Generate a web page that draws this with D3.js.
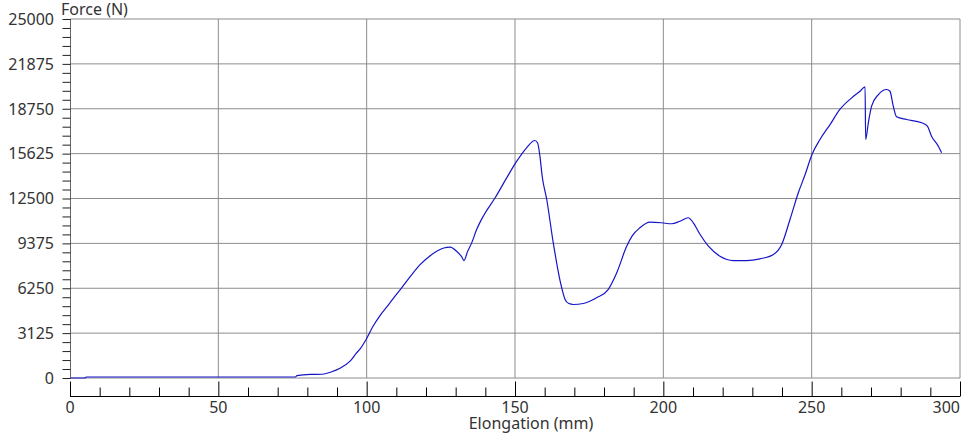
<!DOCTYPE html>
<html><head><meta charset="utf-8">
<script src="https://cdn.jsdelivr.net/npm/d3@7"></script>
<style>
html,body{margin:0;padding:0;background:#fff;}
svg{display:block;}
text{font-family:"Noto Sans","Open Sans",sans-serif;}
</style></head>
<body>
<svg id="chart" width="966" height="434"></svg>
<script>
const elongation = [0,5,5.5,76,76.5,81,85,88,91,94.4,96.6,97.8,100,102,104.5,107,109,111.8,115,118,121,123.6,126,128.1,130.3,132,132.8,134,135.4,137,139.3,143.3,147.2,150.6,153.9,156.7,157.6,158.4,159.2,160.7,162.9,165.2,166.9,168,169.7,173,177.5,181.4,184.3,187.6,189.5,192.1,195.5,199.4,202.8,205.6,208.4,210.1,212.4,215.2,219.1,223.6,228.1,232.6,237.1,239.9,242.7,245.5,247.8,250.1,252.8,256.2,259.5,263.5,266.3,268,268.2,269.1,270.2,272.5,275.3,276.4,277.5,278.6,282,287.1,289,290.4,292.7,293.8];
const force = [0,0,70,70,170,250,260,420,680,1170,1750,2030,2750,3550,4350,5000,5550,6280,7150,7900,8450,8830,9050,9110,8830,8450,8180,8800,9410,10300,11270,12550,13940,15100,16030,16540,16380,15450,14000,12430,9410,6770,5470,5200,5120,5190,5590,6160,7330,9150,9900,10460,10850,10810,10740,10920,11160,10810,9990,9180,8480,8180,8180,8300,8600,9300,11040,12900,14170,15560,16610,17650,18700,19510,19970,20280,16610,17770,18930,19740,20090,19970,18930,18190,18000,17770,17540,16840,16140,15680];
const yTicks = [0,3125,6250,9375,12500,15625,18750,21875,25000];
const xTicks = [0,50,100,150,200,250,300];
const xTitle = "Elongation (mm)";
const yTitle = "Force (N)";

const svg = d3.select("#chart");
const x = d3.scaleLinear().domain([0,300]).range([70,960]);
const y = d3.scaleLinear().domain([0,25000]).range([378,19]);

// gridlines
const grid = svg.append("g");
grid.selectAll("line.h").data(yTicks).join("line")
  .attr("x1",70).attr("x2",960).attr("y1",d=>y(d)).attr("y2",d=>y(d))
  .attr("stroke","#8c8c8c").attr("stroke-width",1);
grid.selectAll("line.v").data(xTicks.slice(1)).join("line")
  .attr("x1",d=>x(d)).attr("x2",d=>x(d)).attr("y1",19).attr("y2",378)
  .attr("stroke","#8c8c8c").attr("stroke-width",1);
// y axis line
svg.append("line").attr("x1",70.5).attr("x2",70.5).attr("y1",19).attr("y2",378)
  .attr("stroke","#666");

// y axis ticks & labels
const yAxis = d3.axisLeft(y).tickValues(d3.range(0,25001,625)).tickSize(8).tickFormat("");
const gy = svg.append("g").attr("transform","translate(70.5,0)").call(yAxis);
gy.select(".domain").remove();
gy.selectAll(".tick line").attr("stroke","#222");
svg.selectAll("text.ylab").data(yTicks).join("text").attr("class","ylab")
  .attr("x",54).attr("y",d=>y(d)).attr("dy","0.36em")
  .attr("text-anchor","end").attr("font-size",16).attr("fill","#333").text(d=>d);

// x axis
const gx = svg.append("g").attr("transform","translate(0,396.5)");
const xMinor = d3.axisTop(x).tickValues(d3.range(0,301,10).filter(v=>v%50!==0)).tickSize(9).tickFormat("");
const xMajor = d3.axisTop(x).tickValues(xTicks).tickSize(15).tickFormat("");
gx.append("g").call(xMinor).select(".domain").remove();
gx.append("g").call(xMajor).select(".domain").attr("d",`M${x(0)},0H${x(300)}`);
gx.selectAll("path.domain").attr("stroke","#000");
gx.selectAll(".tick line").attr("stroke","#000");
svg.selectAll("text.xlab").data(xTicks).join("text").attr("class","xlab")
  .attr("x",d=>x(d)).attr("y",413)
  .attr("text-anchor",(d,i)=>i===xTicks.length-1?"end":"middle")
  .attr("font-size",16).attr("fill","#333").text(d=>d);

// titles
svg.append("text").attr("x",531).attr("y",429).attr("text-anchor","middle")
  .attr("font-size",16).attr("fill","#333").text(xTitle);
svg.append("text").attr("x",61).attr("y",15)
  .attr("font-size",16).attr("fill","#333").text(yTitle);

// curve
const pts = elongation.map((e,i)=>[e,force[i]]);
svg.append("path").datum(pts)
  .attr("d",d3.line().curve(d3.curveMonotoneX).x(d=>x(d[0])).y(d=>y(d[1])))
  .attr("fill","none").attr("stroke","#1515c8").attr("stroke-width",1.2);
</script>
</body></html>
